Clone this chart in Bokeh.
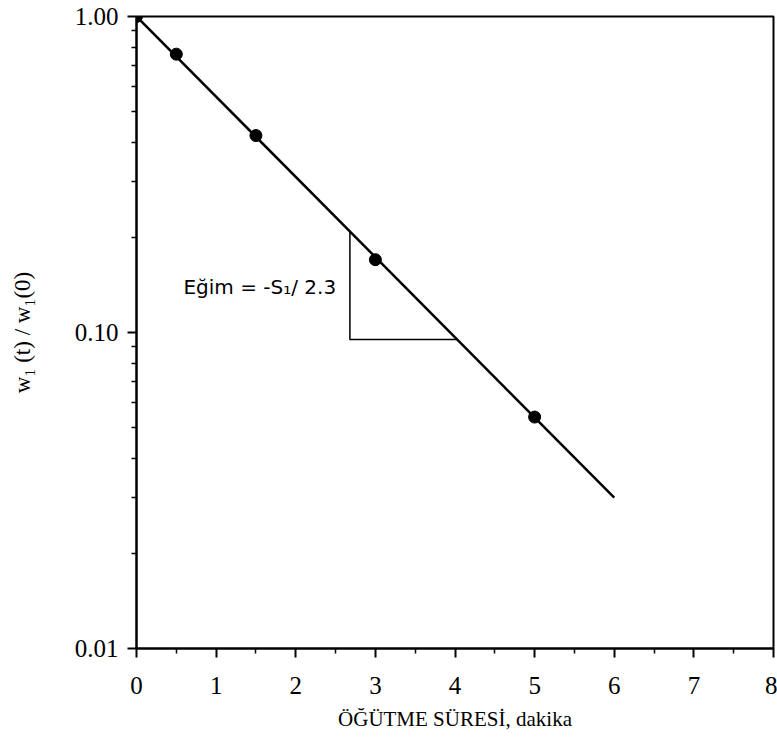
from bokeh.plotting import figure
from bokeh.models import Range1d, FixedTicker, PrintfTickFormatter
from bokeh.core.properties import value
from bokeh.embed import file_html
from bokeh.resources import INLINE

# measured points
time_min = [0.0, 0.5, 1.5, 3.0, 5.0]
w_ratio = [1.0, 0.76, 0.42, 0.17, 0.054]

# fitted first-order line
fit_time = [0.0, 6.0]
fit_ratio = [1.0, 0.03]

# slope triangle
tri_time = [2.68, 2.68, 4.03]
tri_ratio = [0.209, 0.095, 0.095]

# annotation
note_time = [0.59]
note_ratio = [0.139]
note_text = ["Eğim = -S\u2081/ 2.3"]

x_ticks = [0, 1, 2, 3, 4, 5, 6, 7, 8]
x_minor = [0.5, 1.5, 2.5, 3.5, 4.5, 5.5, 6.5, 7.5]
y_ticks = [0.01, 0.1, 1.0]
y_minor = [0.02, 0.03, 0.04, 0.05, 0.06, 0.07, 0.08, 0.09,
           0.2, 0.3, 0.4, 0.5, 0.6, 0.7, 0.8, 0.9]

x_title = "ÖĞÜTME SÜRESİ, dakika"
y_title = "w\u2081 (t) / w\u2081(0)"

p = figure(width=777, height=739, y_axis_type="log",
           x_range=Range1d(0, 8), y_range=Range1d(0.01, 1.0),
           output_backend="svg", toolbar_location=None,
           min_border_left=136, min_border_right=4,
           min_border_top=16, min_border_bottom=91)

p.grid.visible = False
p.outline_line_color = "black"
p.outline_line_width = 2
p.background_fill_color = "white"
p.border_fill_color = "white"

serif = "Liberation Serif"
for ax in (p.xaxis[0], p.yaxis[0]):
    ax.axis_line_width = 2
    ax.axis_line_color = "black"
    ax.major_tick_line_width = 2
    ax.minor_tick_line_width = 1.5
    ax.major_tick_line_color = "black"
    ax.minor_tick_line_color = "black"
    ax.major_tick_in = 0
    ax.minor_tick_in = 0
    ax.major_tick_out = 9
    ax.minor_tick_out = 5
    ax.major_label_text_font = serif
    ax.major_label_text_font_size = "25px"
    ax.major_label_text_color = "black"
    ax.axis_label_text_font = serif
    ax.axis_label_text_font_style = "normal"
    ax.axis_label_text_color = "black"

p.xaxis[0].axis_label_text_font_size = "21px"
p.yaxis[0].axis_label_text_font_size = "23px"
p.xaxis[0].ticker = FixedTicker(ticks=x_ticks, minor_ticks=x_minor)
p.yaxis[0].ticker = FixedTicker(ticks=y_ticks, minor_ticks=y_minor)
p.yaxis[0].formatter = PrintfTickFormatter(format="%.2f")
p.xaxis[0].major_label_standoff = 19
p.yaxis[0].major_label_standoff = 9
p.xaxis[0].axis_label = x_title
p.yaxis[0].axis_label = y_title
p.xaxis[0].axis_label_standoff = 10
p.yaxis[0].axis_label_standoff = 37

p.line(fit_time, fit_ratio, line_color="black", line_width=2.5)
p.line(tri_time, tri_ratio, line_color="black", line_width=1.5)
p.scatter(time_min, w_ratio, size=12, fill_color="black", line_color="black")
p.text(note_time, note_ratio, text=note_text, text_font=value("DejaVu Sans"),
       text_font_size="20px", text_color="black", text_align="left",
       text_baseline="alphabetic")

open("out.html", "w").write(file_html(p, INLINE))
